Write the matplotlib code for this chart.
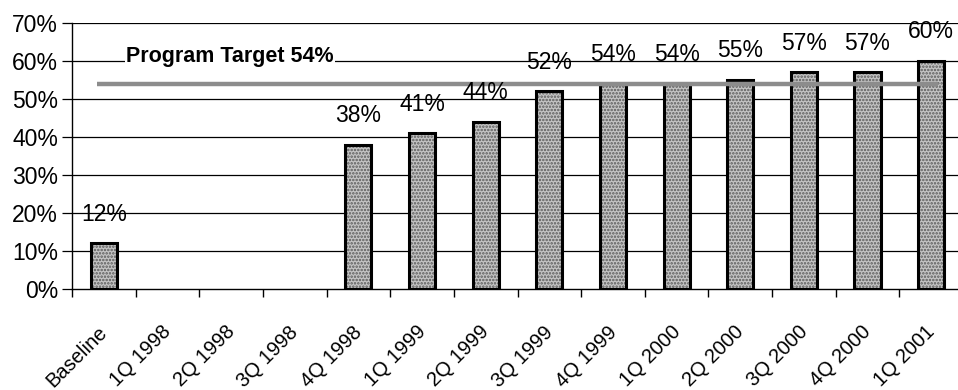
import numpy as np
import matplotlib.pyplot as plt
import matplotlib.transforms as mtransforms

plt.rcParams['font.family'] = ['Liberation Sans', 'DejaVu Sans']
plt.rcParams['hatch.linewidth'] = 1.2

# Daten
quartale = ["Baseline", "1Q 1998", "2Q 1998", "3Q 1998", "4Q 1998", "1Q 1999",
            "2Q 1999", "3Q 1999", "4Q 1999", "1Q 2000", "2Q 2000", "3Q 2000",
            "4Q 2000", "1Q 2001"]
werte = [12, None, None, None, 38, 41, 44, 52, 54, 54, 55, 57, 57, 60]
ziel = [54] * len(quartale)
ziel_text = "Program Target 54%"

x = np.arange(len(quartale))
h = np.array([np.nan if w is None else w for w in werte], dtype=float)

fig = plt.figure(figsize=(9.58, 3.90), dpi=100)
ax = fig.add_axes([0.0752, 0.259, 0.93, 0.682])

# Gitter
for yy in range(10, 71, 10):
    ax.axhline(yy, color='black', lw=0.9, zorder=0)

# Balken: Punktraster + dicker Rand
ax.bar(x, h, width=0.41, color='#c4c4c4', edgecolor='#5a5a5a', hatch='.....',
       linewidth=0, zorder=2)
ax.bar(x, h, width=0.41, fill=False, edgecolor='black', linewidth=2.2, zorder=3)

# Ziellinie
ax.hlines(ziel[0], x[0] - 0.11, x[-1] + 0.11, color='#8c8c8c', lw=3.2, zorder=4)
ax.text(1.98, 61.3, ziel_text, fontsize=15.5, fontweight='bold', ha='center',
        va='center', bbox=dict(facecolor='white', edgecolor='none', pad=1),
        zorder=5)

# Beschriftungen
for xi, w in zip(x, werte):
    if w is None:
        continue
    ax.annotate(f"{w}%", (xi, w), xytext=(0, 21), textcoords='offset points',
                ha='center', va='center', fontsize=16.5, zorder=6)

ax.set_xlim(-0.5, len(quartale) - 0.5)
ax.set_ylim(0, 70)
ax.set_yticks(range(0, 71, 10))
ax.set_yticklabels([f"{v}%" for v in range(0, 71, 10)], fontsize=16.5)
ax.set_xticks(x)
ax.set_xticklabels(quartale, rotation=45, ha='right', rotation_mode='anchor',
                   fontsize=14.5)
ax.set_xticks(np.arange(-0.5, len(quartale)), minor=True)
ax.tick_params(axis='x', which='major', length=0, pad=24)
ax.tick_params(axis='x', which='minor', length=6, width=1, direction='out')
ax.tick_params(axis='y', length=7, width=0.9, pad=3)

# Labels etwas nach links schieben
versatz = mtransforms.ScaledTranslation(-6 / 100, 0, fig.dpi_scale_trans)
for lbl in ax.get_xticklabels():
    lbl.set_transform(lbl.get_transform() + versatz)

for s in ['top', 'right']:
    ax.spines[s].set_visible(False)
ax.spines['left'].set_linewidth(1)
ax.spines['bottom'].set_linewidth(1)

fig.savefig("out.png", dpi=100)
